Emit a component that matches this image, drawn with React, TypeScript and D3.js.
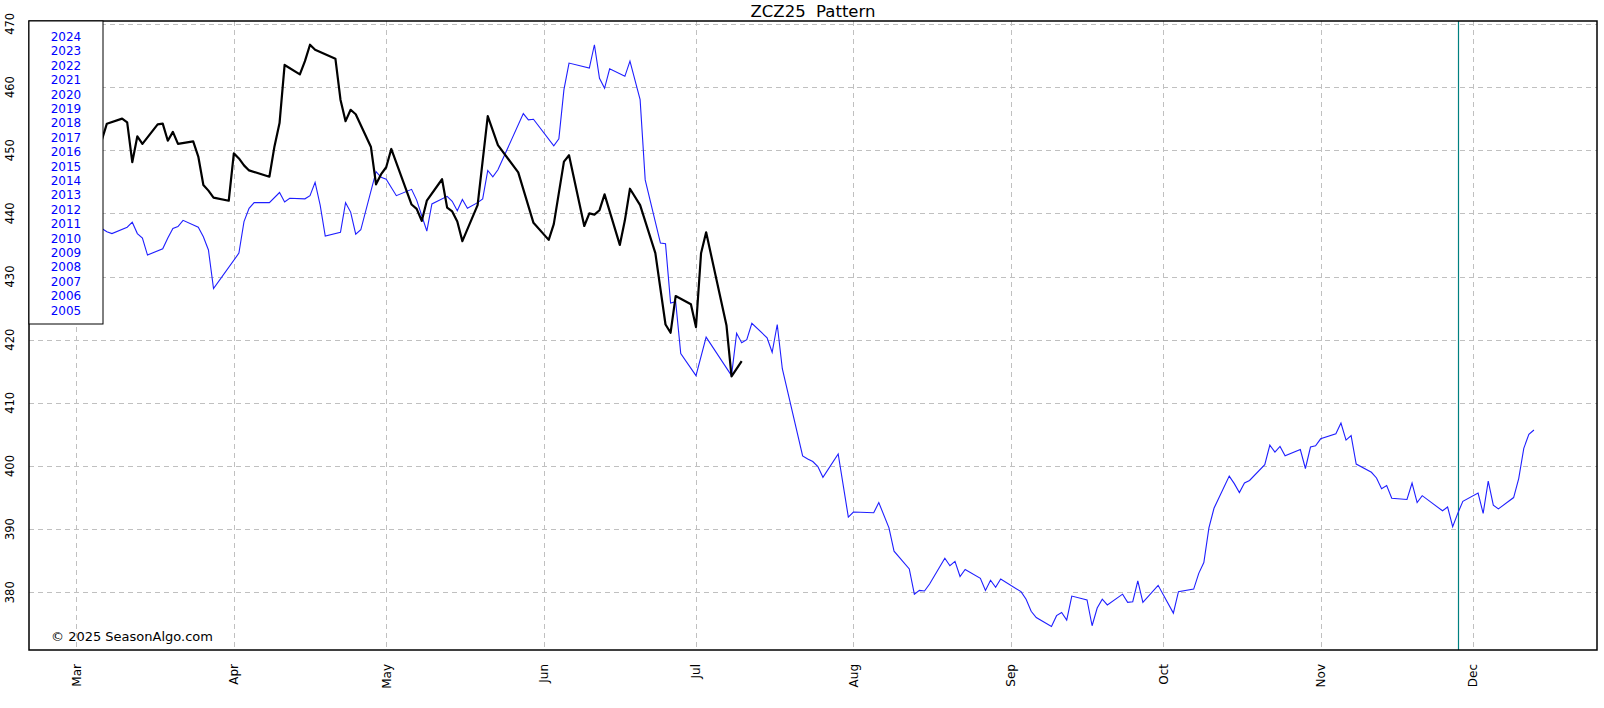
import { useEffect, useRef } from "react";
import * as d3 from "d3";

// ZCZ25 (current contract) closes
const zcz25Prices: [string, number][] = [
  ["03-06", 451.6], ["03-07", 454.2], ["03-10", 455.0], ["03-11", 454.4], ["03-12", 448.1],
  ["03-13", 452.2], ["03-14", 451.0], ["03-17", 454.1], ["03-18", 454.2], ["03-19", 451.5],
  ["03-20", 452.9], ["03-21", 451.0], ["03-24", 451.4], ["03-25", 449.0], ["03-26", 444.5],
  ["03-27", 443.6], ["03-28", 442.5], ["03-31", 442.0], ["04-01", 449.5], ["04-02", 448.7],
  ["04-03", 447.6], ["04-04", 446.8], ["04-08", 445.8], ["04-09", 450.6], ["04-10", 454.3],
  ["04-11", 463.5], ["04-14", 462.0], ["04-15", 464.1], ["04-16", 466.7], ["04-17", 465.9],
  ["04-21", 464.5], ["04-22", 458.0], ["04-23", 454.6], ["04-24", 456.4], ["04-25", 455.7],
  ["04-28", 450.5], ["04-29", 444.6], ["04-30", 446.2], ["05-01", 447.3], ["05-02", 450.2],
  ["05-06", 441.4], ["05-07", 440.7], ["05-08", 438.8], ["05-09", 442.0], ["05-12", 445.4],
  ["05-13", 440.9], ["05-14", 440.3], ["05-15", 438.7], ["05-16", 435.6], ["05-19", 441.3],
  ["05-21", 455.4], ["05-23", 450.8], ["05-27", 446.5], ["05-30", 438.5], ["06-02", 435.8],
  ["06-03", 438.3], ["06-05", 448.2], ["06-06", 449.2], ["06-09", 438.0], ["06-10", 440.0],
  ["06-11", 439.8], ["06-12", 440.5], ["06-13", 443.0], ["06-16", 435.0], ["06-17", 438.9],
  ["06-18", 443.9], ["06-20", 441.3], ["06-23", 433.7], ["06-25", 422.4], ["06-26", 421.1],
  ["06-27", 426.9], ["06-30", 425.6], ["07-01", 422.0], ["07-02", 433.7], ["07-03", 437.0],
  ["07-07", 422.3], ["07-08", 414.2], ["07-10", 416.6],
];

// seasonal pattern (average of 2005-2024)
const patternPrices: [string, number][] = [
  ["03-06", 437.6], ["03-07", 437.1], ["03-08", 436.8], ["03-11", 437.8], ["03-12", 438.6],
  ["03-13", 436.8], ["03-14", 436.1], ["03-15", 433.4], ["03-18", 434.4], ["03-19", 436.1],
  ["03-20", 437.6], ["03-21", 437.9], ["03-22", 438.9], ["03-25", 437.8], ["03-26", 436.3],
  ["03-27", 434.2], ["03-28", 428.1], ["04-02", 433.7], ["04-03", 438.7], ["04-04", 440.8],
  ["04-05", 441.7], ["04-08", 441.7], ["04-10", 443.3], ["04-11", 441.8], ["04-12", 442.4],
  ["04-15", 442.3], ["04-16", 442.8], ["04-17", 444.9], ["04-18", 441.3], ["04-19", 436.4],
  ["04-22", 437.0], ["04-23", 441.7], ["04-24", 440.2], ["04-25", 436.7], ["04-26", 437.4],
  ["04-29", 446.6], ["04-30", 445.7], ["05-01", 445.4], ["05-03", 442.8], ["05-06", 443.8],
  ["05-07", 442.1], ["05-09", 437.2], ["05-10", 441.5], ["05-13", 442.7], ["05-14", 441.9],
  ["05-15", 440.4], ["05-16", 442.2], ["05-17", 440.8], ["05-19", 441.7], ["05-20", 442.3],
  ["05-21", 446.8], ["05-22", 445.8], ["05-23", 446.9], ["05-28", 455.8], ["05-29", 454.8],
  ["05-30", 454.9], ["06-03", 450.7], ["06-04", 451.8], ["06-05", 459.6], ["06-06", 463.8],
  ["06-10", 463.0], ["06-11", 466.7], ["06-12", 461.4], ["06-13", 459.8], ["06-14", 462.9],
  ["06-17", 461.7], ["06-18", 464.1], ["06-20", 458.0], ["06-21", 445.3], ["06-24", 435.3],
  ["06-25", 435.2], ["06-26", 425.8], ["06-27", 426.0], ["06-28", 417.8], ["07-01", 414.3],
  ["07-03", 420.4], ["07-08", 414.3], ["07-09", 421.0], ["07-10", 419.5], ["07-11", 420.0],
  ["07-12", 422.6], ["07-15", 420.3], ["07-16", 418.0], ["07-17", 422.4], ["07-18", 415.4],
  ["07-22", 401.6], ["07-23", 401.1], ["07-24", 400.7], ["07-25", 399.9], ["07-26", 398.2],
  ["07-29", 401.9], ["07-31", 391.9], ["08-01", 392.7], ["08-05", 392.6], ["08-06", 394.2],
  ["08-08", 390.2], ["08-09", 386.5], ["08-12", 383.7], ["08-13", 379.7], ["08-14", 380.3],
  ["08-15", 380.2], ["08-16", 381.3], ["08-19", 385.4], ["08-20", 384.2], ["08-21", 384.9],
  ["08-22", 382.5], ["08-23", 383.6], ["08-26", 382.2], ["08-27", 380.3], ["08-28", 381.9],
  ["08-29", 380.8], ["08-30", 382.1], ["09-03", 380.1], ["09-04", 378.9], ["09-05", 377.0],
  ["09-06", 376.0], ["09-09", 374.6], ["09-10", 376.3], ["09-11", 376.8], ["09-12", 375.6],
  ["09-13", 379.4], ["09-16", 378.8], ["09-17", 374.7], ["09-18", 377.5], ["09-19", 378.9],
  ["09-20", 378.0], ["09-23", 379.7], ["09-24", 378.4], ["09-25", 378.5], ["09-26", 381.8],
  ["09-27", 378.4], ["09-30", 381.1], ["10-03", 376.7], ["10-04", 380.1], ["10-07", 380.5],
  ["10-08", 383.0], ["10-09", 384.7], ["10-10", 390.2], ["10-11", 393.3], ["10-14", 398.4],
  ["10-15", 397.2], ["10-16", 395.8], ["10-17", 397.3], ["10-18", 397.7], ["10-21", 400.2],
  ["10-22", 403.3], ["10-23", 402.2], ["10-24", 403.1], ["10-25", 401.6], ["10-28", 402.6],
  ["10-29", 399.6], ["10-30", 403.0], ["10-31", 403.2], ["11-01", 404.3], ["11-04", 405.1],
  ["11-05", 406.8], ["11-06", 404.1], ["11-07", 404.8], ["11-08", 400.3], ["11-11", 399.0],
  ["11-12", 398.1], ["11-13", 396.4], ["11-14", 396.9], ["11-15", 394.9], ["11-18", 394.7],
  ["11-19", 397.3], ["11-20", 394.2], ["11-21", 395.3], ["11-25", 392.9], ["11-26", 393.5],
  ["11-27", 390.4], ["11-28", 392.5], ["11-29", 394.4], ["12-02", 395.7], ["12-03", 392.5],
  ["12-04", 397.6], ["12-05", 393.8], ["12-06", 393.2], ["12-09", 395.0], ["12-10", 398.0],
  ["12-11", 402.8], ["12-12", 405.0], ["12-13", 405.7],
];

const legendYears = [
  "2024", "2023", "2022", "2021", "2020", "2019", "2018", "2017", "2016", "2015",
  "2014", "2013", "2012", "2011", "2010", "2009", "2008", "2007", "2006", "2005",
];

const yTicks = [380, 390, 400, 410, 420, 430, 440, 450, 460, 470];
const markerDate = "11-28";

const parse = (s: string) => d3.timeParse("%Y-%m-%d")("2025-" + s) as Date;

export default function App() {
  const ref = useRef<SVGSVGElement>(null);

  useEffect(() => {
    if (!ref.current) return;
    const width = 1604;
    const height = 708;
    const margin = { top: 21, right: 7, bottom: 58, left: 29 };
    const innerW = width - margin.left - margin.right;
    const innerH = height - margin.top - margin.bottom;

    const root = d3.select(ref.current);
    root.selectAll("*").remove();
    root.attr("width", width).attr("height", height);

    root.append("rect").attr("width", width).attr("height", height).attr("fill", "#fff");

    const x = d3
      .scaleTime()
      .domain([new Date(2025, 1, 19, 16), new Date(2025, 11, 25, 10)])
      .range([0, innerW]);
    const y = d3.scaleLinear().domain([370.86, 470.46]).range([innerH, 0]);

    const g = root.append("g").attr("transform", `translate(${margin.left},${margin.top})`);

    // grid
    const months = d3.timeMonth.range(new Date(2025, 2, 1), new Date(2025, 11, 2));
    g.append("g")
      .selectAll("line")
      .data(yTicks)
      .join("line")
      .attr("x1", 0)
      .attr("x2", innerW)
      .attr("y1", (d) => Math.round(y(d)) + 0.5)
      .attr("y2", (d) => Math.round(y(d)) + 0.5)
      .attr("stroke", "#c0c0c0")
      .attr("stroke-dasharray", "5,4");
    g.append("g")
      .selectAll("line")
      .data(months)
      .join("line")
      .attr("x1", (d) => Math.round(x(d)) + 0.5)
      .attr("x2", (d) => Math.round(x(d)) + 0.5)
      .attr("y1", 0)
      .attr("y2", innerH)
      .attr("stroke", "#c0c0c0")
      .attr("stroke-dasharray", "5,4");

    // pattern marker (today)
    g.append("line")
      .attr("x1", Math.round(x(parse(markerDate))) + 0.5)
      .attr("x2", Math.round(x(parse(markerDate))) + 0.5)
      .attr("y1", 0)
      .attr("y2", innerH)
      .attr("stroke", "#008080")
      .attr("stroke-width", 1.2);

    const line = d3
      .line<[string, number]>()
      .x((d) => x(parse(d[0])))
      .y((d) => y(d[1]));

    g.append("path")
      .datum(patternPrices)
      .attr("fill", "none")
      .attr("stroke", "#1f1fff")
      .attr("stroke-width", 1.1)
      .attr("d", line);

    g.append("path")
      .datum(zcz25Prices)
      .attr("fill", "none")
      .attr("stroke", "#000")
      .attr("stroke-width", 2.2)
      .attr("stroke-linejoin", "round")
      .attr("d", line);

    // frame
    g.append("rect")
      .attr("width", innerW)
      .attr("height", innerH)
      .attr("fill", "none")
      .attr("stroke", "#000")
      .attr("stroke-width", 1.5);

    // legend
    const legend = g.append("g");
    legend
      .append("rect")
      .attr("x", 0)
      .attr("y", 0)
      .attr("width", 74)
      .attr("height", 303)
      .attr("fill", "#fff")
      .attr("stroke", "#000")
      .attr("stroke-width", 1);
    legend
      .selectAll("text")
      .data(legendYears)
      .join("text")
      .attr("x", 37)
      .attr("y", (_, i) => 20 + i * 14.4)
      .attr("text-anchor", "middle")
      .attr("fill", "#0000ff")
      .style("font-family", "DejaVu Sans")
      .style("font-size", "12px")
      .text((d) => d);

    // y axis labels
    g.append("g")
      .selectAll("text")
      .data(yTicks)
      .join("text")
      .attr("transform", (d) => `translate(${-15.5},${y(d)}) rotate(-90)`)
      .attr("text-anchor", "middle")
      .attr("fill", "#000")
      .style("font-family", "DejaVu Sans")
      .style("font-size", "11.5px")
      .text((d) => d);

    // x axis labels
    g.append("g")
      .selectAll("text")
      .data(months)
      .join("text")
      .attr("transform", (d) => `translate(${x(d) + 4.5},${innerH + 14}) rotate(-90)`)
      .attr("text-anchor", "end")
      .attr("fill", "#000")
      .style("font-family", "DejaVu Sans")
      .style("font-size", "12px")
      .text((d) => d3.timeFormat("%b")(d));

    // copyright
    g.append("text")
      .attr("x", 22)
      .attr("y", innerH - 9.5)
      .attr("fill", "#000")
      .style("font-family", "DejaVu Sans")
      .style("font-size", "13px")
      .text("\u00a9 2025 SeasonAlgo.com");

    // title
    root
      .append("text")
      .attr("x", margin.left + innerW / 2)
      .attr("y", 16.5)
      .attr("text-anchor", "middle")
      .attr("fill", "#000")
      .style("font-family", "DejaVu Sans")
      .style("font-size", "16.5px")
      .style("white-space", "pre")
      .text("ZCZ25  Pattern");
  }, []);

  return <svg ref={ref} style={{ position: "absolute", left: 0, top: 0 }} />;
}
